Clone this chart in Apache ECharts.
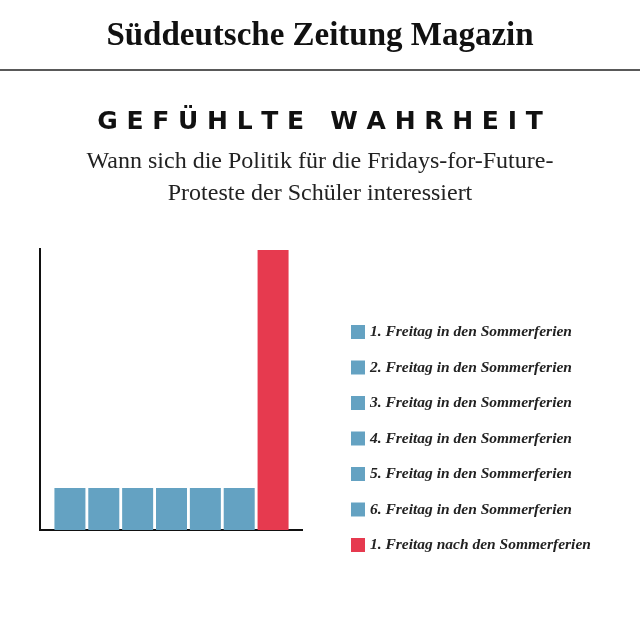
<!DOCTYPE html>
<html><head><meta charset="utf-8">
<script src="https://cdn.jsdelivr.net/npm/echarts@6/dist/echarts.min.js"></script>
<style>html,body{margin:0;padding:0;background:#fff}#c{width:640px;height:640px}</style>
</head><body><div id="c"></div>
<script>
const categories = ["1. Freitag in den Sommerferien","2. Freitag in den Sommerferien","3. Freitag in den Sommerferien","4. Freitag in den Sommerferien","5. Freitag in den Sommerferien","6. Freitag in den Sommerferien","1. Freitag nach den Sommerferien"];
const values = [15, 15, 15, 15, 15, 15, 100];
const colors = ["#64a2c2","#64a2c2","#64a2c2","#64a2c2","#64a2c2","#64a2c2","#e63a4f"];

const chart = echarts.init(document.getElementById('c'));
const series = categories.map((name, i) => ({
  name, type: 'bar', stack: 'a', barWidth: 31,
  itemStyle: {color: colors[i]},
  data: categories.map((c, j) => j === i ? values[i] : null)
}));
chart.setOption({
  animation: false,
  title: [
    {text: 'Süddeutsche Zeitung Magazin', left: 'center', top: 15,
     textStyle: {fontFamily: 'Liberation Serif', fontWeight: 'bold', fontSize: 33, color: '#111'}},
    {text: 'G E F Ü H L T E   W A H R H E I T', left: 'center', top: 105,
     textStyle: {fontFamily: 'DejaVu Sans', fontWeight: 'bold', fontSize: 25, color: '#111'}},
    {text: 'Wann sich die Politik für die Fridays-for-Future-\nProteste der Schüler interessiert', left: 'center', top: 141,
     textStyle: {fontFamily: 'Liberation Serif', fontWeight: 'normal', fontSize: 24, lineHeight: 32, color: '#222', align: 'center'}}
  ],
  graphic: [
    {type: 'line', shape: {x1: 0, y1: 70, x2: 640, y2: 70}, style: {stroke: '#222', lineWidth: 1.5}},
    {type: 'line', shape: {x1: 40, y1: 248, x2: 40, y2: 530}, style: {stroke: '#111', lineWidth: 2}},
    {type: 'line', shape: {x1: 39, y1: 530, x2: 303, y2: 530}, style: {stroke: '#111', lineWidth: 2}}
  ],
  legend: {
    orient: 'vertical', left: 346, top: 319, itemGap: 19.5, itemWidth: 14, itemHeight: 14,
    icon: 'rect', data: categories,
    textStyle: {fontFamily: 'Liberation Serif', fontStyle: 'italic', fontWeight: 'bold', fontSize: 15.5, color: '#222'}
  },
  grid: {left: 53, right: 350, top: 250, bottom: 110},
  xAxis: {type: 'category', data: categories, axisLine: {show: false}, axisTick: {show: false}, axisLabel: {show: false}},
  yAxis: {type: 'value', min: 0, max: 100, axisLine: {show: false}, axisTick: {show: false}, axisLabel: {show: false}, splitLine: {show: false}},
  series
});
</script></body></html>
